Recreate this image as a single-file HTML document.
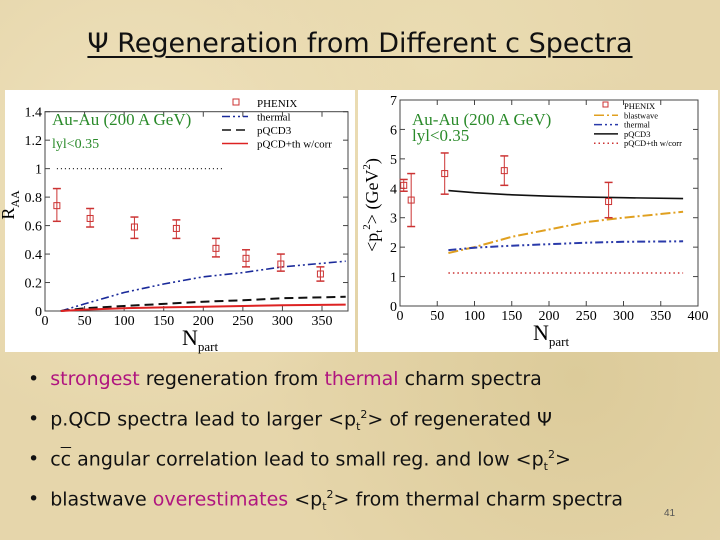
<!DOCTYPE html>
<html><head><meta charset="utf-8">
<style>
html,body{margin:0;padding:0;}
body{width:720px;height:540px;overflow:hidden;position:relative;background:#e6d6ab;background-image:radial-gradient(circle at 20% 30%,#efe2bd 0,transparent 40%),radial-gradient(circle at 80% 70%,#dccb9a 0,transparent 45%),radial-gradient(circle at 60% 10%,#eadcb2 0,transparent 35%);font-family:"Liberation Sans","DejaVu Sans",sans-serif;}
#title{position:absolute;left:0;width:720px;top:28px;text-align:center;font-size:27px;color:#111;font-family:"DejaVu Sans",sans-serif;}
#title span{text-decoration:underline;text-decoration-thickness:2px;text-underline-offset:4px;}
.bl{position:absolute;left:28px;font-size:19px;color:#111;white-space:nowrap;font-family:"DejaVu Sans",sans-serif;}
.bl b{font-weight:normal;margin-right:11px;}
.m{color:#b0157f;}
sub{font-size:11px;}
sup{font-size:11px;}
#pn{position:absolute;left:664px;top:508px;font-size:10px;color:#555;}
svg{position:absolute;top:0;left:0;}
</style></head><body>
<div id="title"><span>Ψ Regeneration from Different c Spectra</span></div>
<svg width="720" height="540" id="chart"></svg>
<div class="bl" style="top:368px"><b>•</b><span class="m">strongest</span> regeneration from <span class="m">thermal</span> charm spectra</div>
<div class="bl" style="top:408px"><b>•</b>p.QCD spectra lead to larger &lt;p<sub>t</sub><sup>2</sup>&gt; of regenerated Ψ</div>
<div class="bl" style="top:448px"><b>•</b>c<span style="text-decoration:overline">c</span> angular correlation lead to small reg. and low &lt;p<sub>t</sub><sup>2</sup>&gt;</div>
<div class="bl" style="top:488px"><b>•</b>blastwave <span class="m">overestimates</span> &lt;p<sub>t</sub><sup>2</sup>&gt; from thermal charm spectra</div>
<div id="pn">41</div>
<script>
// Left chart data (R_AA)
const lPhenixX=[15,57,113,166,216,254,298,348];
const lPhenixY=[0.74,0.65,0.59,0.58,0.44,0.37,0.33,0.26];
const lPhenixLo=[0.63,0.59,0.51,0.51,0.38,0.31,0.28,0.21];
const lPhenixHi=[0.86,0.72,0.66,0.64,0.51,0.43,0.40,0.31];
const lCurveX=[20,50,100,150,200,250,300,380];
const lThermal=[0,0.05,0.13,0.19,0.24,0.27,0.31,0.35];
const lPqcd=[0,0.02,0.035,0.05,0.065,0.075,0.09,0.1];
const lCorr=[0,0.01,0.02,0.025,0.03,0.035,0.04,0.045];
const lXTicks=[0,50,100,150,200,250,300,350];
const lYTicks=[0,0.2,0.4,0.6,0.8,1,1.2,1.4];
// Right chart data (<pt^2>)
const rPhenixX=[5,15,60,140,280];
const rPhenixY=[4.1,3.6,4.5,4.6,3.55];
const rPhenixLo=[3.9,2.7,3.8,4.1,3.0];
const rPhenixHi=[4.3,4.5,5.2,5.1,4.2];
const rCurveX=[65,100,150,200,250,300,380];
const rPqcd=[3.92,3.85,3.78,3.73,3.7,3.68,3.65];
const rBlast=[1.8,2.0,2.35,2.6,2.85,3.0,3.2];
const rThermal=[1.9,1.98,2.05,2.1,2.15,2.18,2.2];
const rCorr=[1.12,1.12,1.12,1.12,1.12,1.12,1.12];
const rXTicks=[0,50,100,150,200,250,300,350,400];
const rYTicks=[0,1,2,3,4,5,6,7];

const NS="http://www.w3.org/2000/svg";
const svg=document.getElementById('chart');
function mk(t,a,p){const e=document.createElementNS(NS,t);for(const k in a)e.setAttribute(k,a[k]);(p||svg).appendChild(e);return e;}
function txt(x,y,s,a,p){const e=mk('text',Object.assign({x:x,y:y,'font-family':'Liberation Serif,serif'},a),p);e.textContent=s;return e;}

function chart(o){
  const g=mk('g',{});
  
  
  const bg=mk('rect',{x:o.px,y:o.py,width:o.pw,height:o.ph,fill:'#fff'},g);
  
  
  const sx=v=>o.x0+(v-o.xmin)/(o.xmax-o.xmin)*(o.x1-o.x0);
  const sy=v=>o.y0-(v-o.ymin)/(o.ymax-o.ymin)*(o.y0-o.y1);
  const fr=mk('rect',{x:o.x0,y:o.y1,width:o.fr-o.x0,height:o.y0-o.y1,fill:'none',stroke:'#444','stroke-width':1},g);
  
  
  o.xt.forEach(v=>{const X=sx(v);mk('line',{x1:X,x2:X,y1:o.y0,y2:o.y0-5,stroke:'#444'},g);mk('line',{x1:X,x2:X,y1:o.y1,y2:o.y1+5,stroke:'#444'},g);
    const t=txt(X,o.y0+14,String(v),{'font-size':14,'text-anchor':'middle'},g);});
  o.yt.forEach(v=>{const Y=sy(v);mk('line',{x1:o.x0,x2:o.x0+5,y1:Y,y2:Y,stroke:'#444'},g);mk('line',{x1:o.fr,x2:o.fr-5,y1:Y,y2:Y,stroke:'#444'},g);
    const t=txt(o.x0-3,Y+5,String(v),{'font-size':14,'text-anchor':'end'},g);});
  const xl=txt(o.xlx,o.y0+34,'N',{'font-size':22},g);
  mk('tspan',{'font-size':13,dy:6},xl).textContent='part';
  
  const yl=mk('text',{x:0,y:0,'font-family':'Liberation Serif,serif','font-size':18,transform:`translate(${o.ylx},${o.yly}) rotate(-90)`,'text-anchor':'middle'},g);
  yl.innerHTML=o.ytitle;
  
  o.series.forEach(s=>{
    const d=s.x.map((v,i)=>(i?'L':'M')+sx(v).toFixed(1)+' '+sy(s.y[i]).toFixed(1)).join(' ');
    const p=mk('path',{d:d,fill:'none',stroke:s.c,'stroke-width':s.w||1.6,'stroke-dasharray':s.dash||''},g);
    
  });
  o.px_.forEach((v,i)=>{
    const X=sx(v);
    const e=mk('g',{stroke:'#c33',fill:'none','stroke-width':1},g);
    
    mk('line',{x1:X,x2:X,y1:sy(o.lo[i]),y2:sy(o.hi[i])},e);
    mk('line',{x1:X-4,x2:X+4,y1:sy(o.lo[i]),y2:sy(o.lo[i]),'stroke-width':1.5},e);
    mk('line',{x1:X-4,x2:X+4,y1:sy(o.hi[i]),y2:sy(o.hi[i]),'stroke-width':1.5},e);
    mk('rect',{x:X-3,y:sy(o.yv[i])-3,width:6,height:6},e);
  });
  return {g,sx,sy};
}

const L=chart({name:'raa-chart',px:5,py:90,pw:350,ph:262,x0:45,x1:322,xmin:0,xmax:350,y0:311,y1:111.7,ymin:0,ymax:1.4,fr:348,
  xt:lXTicks,yt:lYTicks,xlx:182,ylx:14,yly:205,ytitle:'R<tspan font-size="12" dy="5">AA</tspan>',
  px_:lPhenixX,yv:lPhenixY,lo:lPhenixLo,hi:lPhenixHi,
  series:[{name:'thermal-line',x:lCurveX,y:lThermal,c:'#1a2a9a',dash:'8 3 2 3 2 3'},
          {name:'pqcd3-line',x:lCurveX,y:lPqcd,c:'#111',dash:'9 5',w:2},
          {name:'pqcd-th-corr-line',x:lCurveX,y:lCorr,c:'#d22',w:2},
          {name:'unity-line',x:[15,225],y:[1,1],c:'#222',dash:'1 3',w:1.2}]});
(function(){const g=L.g;
 const a=txt(52,125,'Au-Au (200 A GeV)',{'font-size':17,fill:'#2a8a2a'},g);
 const b=txt(52,148,'lyl<0.35',{'font-size':14,fill:'#2a8a2a'},g);
 const leg=[['PHENIX',null],['thermal',['#1a2a9a','8 3 2 3 2 3']],['pQCD3',['#111','9 5']],['pQCD+th w/corr',['#d22','']]];
 leg.forEach((l,i)=>{const y=107+i*13.5;
  const e=mk('g',{},g);
  if(l[1]) mk('line',{x1:222,x2:248,y1:y-4,y2:y-4,stroke:l[1][0],'stroke-width':1.6,'stroke-dasharray':l[1][1]},e);
  else mk('rect',{x:233,y:y-8,width:6,height:6,fill:'none',stroke:'#c33'},e);
  txt(257,y,l[0],{'font-size':11},e);});
})();

const R=chart({name:'pt2-chart',px:358,py:90,pw:360,ph:262,x0:400,x1:698,xmin:0,xmax:400,y0:306,y1:100,ymin:0,ymax:7,fr:698,
  xt:rXTicks,yt:rYTicks,xlx:533,ylx:378,yly:205,ytitle:'&lt;p<tspan font-size="11" dy="4">t</tspan><tspan font-size="11" dy="-12">2</tspan><tspan dy="8">&gt; (GeV</tspan><tspan font-size="11" dy="-8">2</tspan><tspan dy="8">)</tspan>',
  px_:rPhenixX,yv:rPhenixY,lo:rPhenixLo,hi:rPhenixHi,
  series:[{name:'pqcd3-line',x:rCurveX,y:rPqcd,c:'#111',w:1.6},
          {name:'blastwave-line',x:rCurveX,y:rBlast,c:'#e0a020',dash:'10 3 2 3',w:2},
          {name:'thermal-line',x:rCurveX,y:rThermal,c:'#2a3aaa',dash:'8 3 2 3 2 3',w:2},
          {name:'pqcd-th-corr-line',x:rCurveX,y:rCorr,c:'#c33',dash:'1.5 3',w:1.5}]});
(function(){const g=R.g;
 const a=txt(412,125,'Au-Au (200 A GeV)',{'font-size':17,fill:'#2a8a2a'},g);
 const b=txt(412,141,'lyl<0.35',{'font-size':17,fill:'#2a8a2a'},g);
 const leg=[['PHENIX',null],['blastwave',['#e0a020','10 3 2 3']],['thermal',['#2a3aaa','8 3 2 3 2 3']],['pQCD3',['#111','']],['pQCD+th w/corr',['#c33','1.5 3']]];
 leg.forEach((l,i)=>{const y=109+i*9.3;
  const e=mk('g',{},g);
  if(l[1]) mk('line',{x1:594,x2:618,y1:y-3,y2:y-3,stroke:l[1][0],'stroke-width':1.5,'stroke-dasharray':l[1][1]},e);
  else mk('rect',{x:603,y:y-7,width:5,height:5,fill:'none',stroke:'#c33'},e);
  txt(624,y,l[0],{'font-size':8.5},e);});
})();
</script>
</body></html>
